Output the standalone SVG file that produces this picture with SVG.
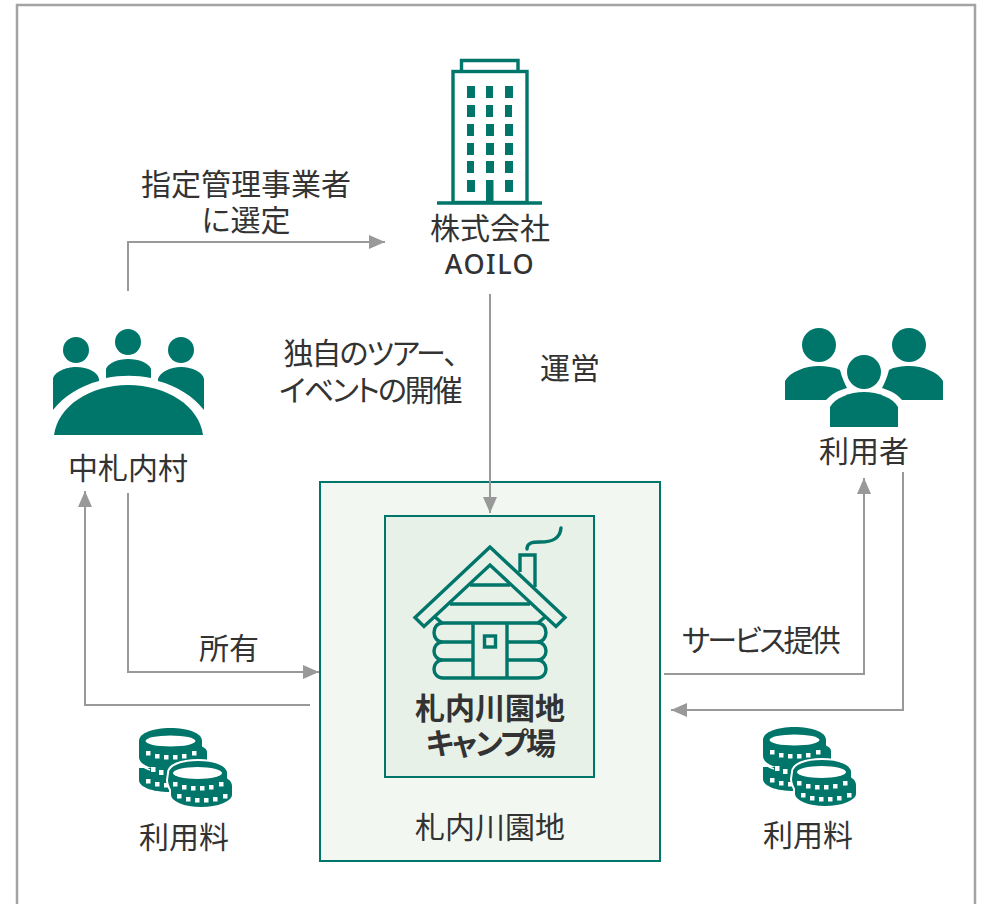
<svg xmlns="http://www.w3.org/2000/svg" width="982" height="904" viewBox="0 0 982 904">
<style>
text{font-family:"Liberation Sans","Noto Sans CJK JP",sans-serif;font-size:30px;fill:#333;text-anchor:middle;font-feature-settings:"palt"}
.g{fill:#00756a}
.o{fill:none;stroke:#00756a;stroke-width:3.4}
.c{fill:none;stroke:#999;stroke-width:2;marker-end:url(#a)}
</style>
<defs>
<marker id="a" markerUnits="userSpaceOnUse" markerWidth="17" markerHeight="14" refX="16" refY="7" orient="auto"><path d="M0 0L16 7L0 14Z" fill="#999"/></marker>
<path id="row" fill="#fff" d="M-25-4h4.500v4.500h-4.500ZM-16-1h4.500v4.500h-4.500ZM-7 0h4.500v4.500h-4.500ZM2 0h4.500v4.500h-4.500ZM11-1h4.500v4.500h-4.500ZM21-4h4.500v4.500h-4.500Z"/>
<g id="coins">
<path class="g" d="M146 752C146 746 160 742 176 742S207 746 207 752V760C207 766 190 770 176 770Z"/>
<path class="g" d="M139 768V780C139 787 152 792 170 792S200 790 205 780V768Z"/>
<path class="g" d="M139 741C139 733 153 728 170.500 728S202 733 202 741V757C202 765 188 770 170 770S139 765 139 757Z"/>
<ellipse cx="170.500" cy="741" rx="25" ry="5.500" fill="#fff"/>
<use href="#row" x="171" y="755"/>
<path d="M137 762C140 766 145 768 150 770" fill="none" stroke="#fff" stroke-width="1.500"/>
<path fill="#fff" d="M151 767h4.500v5h-4.500ZM159 770h4.500v5h-4.500ZM146 779h4.500v4.500h-4.500ZM155 782h4.500v4.500h-4.500ZM164 783h4.500v4.500h-4.500Z"/>
<path class="g" stroke="#fff" stroke-width="2" d="M168 773C168 765 181 760 198 760S228 765 228 773V778C231 780 233 783 233 786V795C233 802 218 808 201 808S170 802 170 795V790C168 786 167 784 167 780Z"/>
<ellipse cx="197.500" cy="773" rx="24.500" ry="6" fill="#fff"/>
<use href="#row" x="198" y="786"/>
<use href="#row" x="202" y="798"/>
</g>
</defs>
<rect width="982" height="904" fill="#fff"/>
<rect id="frame" x="17" y="5" width="958" height="920" fill="none" stroke="#a3a3a3" stroke-width="2.500"/>

<g id="node-aoilo">
<path class="o" d="M461.500 71V60.500H518V71"/>
<rect class="o" x="453" y="71.500" width="74" height="131"/>
<path class="o" d="M437 203H542"/>
<path class="g" d="M467 86h8v12h-8ZM486 86h7v12h-7ZM505 86h8v12h-8ZM467 105h8v12h-8ZM486 105h7v12h-7ZM505 105h7v12h-7ZM467 124h7v12h-7ZM486 124h8v12h-8ZM505 124h8v12h-8ZM467 143h7v12h-7ZM486 143h8v12h-8ZM505 143h8v12h-8ZM467 161h7v12h-7ZM486 161h8v12h-8ZM505 161h8v12h-8ZM467 180h8v12h-8ZM486 180h7.500v23h-7.500ZM505 180h8v12h-8Z"/>
<text x="490" y="239">株式会社</text>
<text x="490" y="274" font-weight="500" style="font-family:'Noto Sans','Liberation Sans',sans-serif;font-size:27px;letter-spacing:1.500px">AOILO</text>
</g>

<text id="label-select"><tspan x="246" y="195">指定管理事業者</tspan><tspan x="246" y="231">に選定</tspan></text>
<text id="label-tour" letter-spacing="-2"><tspan x="370" y="364">独自のツアー、</tspan><tspan x="370" y="401">イベントの開催</tspan></text>
<text id="label-unei" x="570" y="379">運営</text>

<g id="node-village">
<circle class="g" cx="76" cy="350" r="13"/>
<circle class="g" cx="128" cy="342" r="13"/>
<circle class="g" cx="181" cy="350" r="13"/>
<path class="g" d="M53 410V379C54 372 66 367 76 367C88 367 98 372 99 379V381C80 386 64 396 53 410Z"/>
<path class="g" d="M106 378V369C108 363 118 359 128 359C139 359 149 363 151 369V378C136 375 121 375 106 378Z"/>
<path class="g" d="M158 381V379C160 372 170 367 181 367C192 367 203 372 204 379V410C193 396 177 386 158 381Z"/>
<path class="g" d="M54 435C58 406 90 385 128 385C167 385 199 406 203 435Z"/>
<text x="128" y="479">中札内村</text>
</g>

<g id="node-users">
<circle class="g" cx="819" cy="345" r="17"/>
<circle class="g" cx="909" cy="345" r="17"/>
<path class="g" d="M785 400V381C790 372 805 366 819 366C826 366 834 367 840 370C842 378 845 384 847 388C836 391 831 395 826 400Z"/>
<path class="g" d="M943 400V381C938 372 923 366 909 366C902 366 894 367 889 370C887 378 884 384 882 388C892 391 898 395 902 400Z"/>
<circle class="g" cx="864" cy="372" r="17"/>
<path class="g" d="M830 427V407C835 398 850 392 864 392C878 392 893 398 898 407V427Z"/>
<text x="864" y="462">利用者</text>
</g>

<g id="node-site">
<rect x="320" y="482" width="340" height="379" fill="#f2f7f1" stroke="#00756a" stroke-width="2"/>
<text x="490" y="838">札内川園地</text>
</g>

<g id="node-camp">
<rect x="385" y="516" width="209" height="261" fill="#e7f1e7" stroke="#00756a" stroke-width="2"/>
<g class="o">
<path d="M490 547L415 617.500L424 626.500L490 565L556 626.500L565 617.500Z"/>
<path d="M520 572V555H535V587"/>
<path d="M527 549C527 543 532 542 540 542C552 542 560 539 561 528" stroke-linecap="round"/>
<path d="M470 585H510M450 604H530M435 617L442 623M545 617L538 623"/>
<path d="M473 623H443C431 623 431 642 443 642H473M443 642C431 642 431 660 443 660H473M443 660C431 660 431 678 443 678H537C549 678 549 660 537 660H507M537 660C549 660 549 642 537 642H507M537 642C549 642 549 623 537 623H507"/>
<path d="M473 623H507M473 623V678M507 623V678"/>
<rect x="484.500" y="636" width="11" height="11"/>
</g>
<text x="490" y="719" font-weight="700">札内川園地</text>
<text x="490" y="754" font-weight="700" letter-spacing="-1.800">キャンプ場</text>
</g>

<text id="label-owner" x="229" y="659">所有</text>
<text id="label-service" x="760" y="651" letter-spacing="-2.700">サービス提供</text>

<g id="fee-left">
<use href="#coins"/>
<text x="184" y="848">利用料</text>
</g>
<g id="fee-right">
<use href="#coins" x="624" y="-1"/>
<text x="808" y="846">利用料</text>
</g>

<g id="connectors">
<path class="c" d="M128 291V242H385"/>
<path class="c" d="M490 294V513"/>
<path class="c" d="M128 493V672H319"/>
<path class="c" d="M310 705H85V491"/>
<path class="c" d="M664 674H864V478"/>
<path class="c" d="M903 472V710H671"/>
</g>
</svg>
